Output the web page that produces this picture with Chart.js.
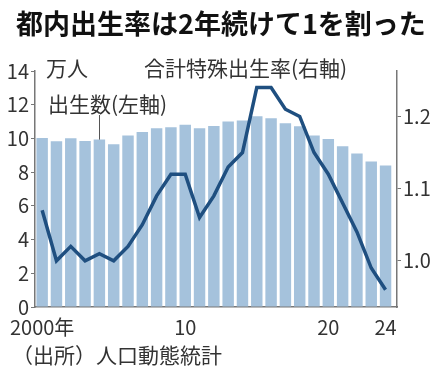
<!DOCTYPE html>
<html lang="ja">
  <head>
    <meta charset="UTF-8" />
    <title>都内出生率は2年続けて1を割った</title>
    <style>
      html, body { margin: 0; padding: 0; background: #fff; }
      #wrap { width: 434px; height: 374px; position: relative; }
    </style>
  </head>
  <body>
    <div id="wrap"><canvas id="myChart"></canvas></div>

    <script src="https://cdn.jsdelivr.net/npm/chart.js"></script>
    <script>
      const years = [2000, 2001, 2002, 2003, 2004, 2005, 2006, 2007, 2008, 2009, 2010, 2011, 2012,
        2013, 2014, 2015, 2016, 2017, 2018, 2019, 2020, 2021, 2022, 2023, 2024];
      // 出生数 (万人)
      const births = [10.02, 9.84, 10.01, 9.85, 9.93, 9.65, 10.17, 10.38, 10.6, 10.66, 10.81, 10.6, 10.74,
        11.0, 11.06, 11.32, 11.2, 10.9, 10.72, 10.18, 9.97, 9.54, 9.11, 8.63, 8.4];
      // 合計特殊出生率
      const tfr = [1.07, 1.0, 1.02, 1.0, 1.01, 1.0, 1.02, 1.05, 1.09, 1.12, 1.12, 1.06, 1.09,
        1.13, 1.15, 1.24, 1.24, 1.21, 1.2, 1.15, 1.12, 1.08, 1.04, 0.99, 0.96];
      const xTicks = [2000, 2010, 2020, 2024];
      const rightTicks = [1.0, 1.1, 1.2];

      const FONT = "'Noto Sans CJK JP', 'Noto Sans', sans-serif";

      const textPlugin = {
        id: "texts",
        afterDraw(chart) {
          const c = chart.ctx;
          const x = chart.scales.x;
          const y = chart.scales.y;
          c.save();
          c.fillStyle = "#111";
          c.textBaseline = "middle";
          c.textAlign = "left";
          c.font = "bold 27px " + FONT;
          c.fillText("都内出生率は2年続けて1を割った", 16, 24);
          c.fillStyle = "#333";
          c.font = "21px " + FONT;
          c.fillText("万人", 46, 68);
          c.fillText("合計特殊出生率(右軸)", 144, 68);
          c.fillText("出生数(左軸)", 48, 104);
          c.fillText("（出所）人口動態統計", 12, 355);
          // leader line to the 2004 bar
          const lx = Math.round(x.getPixelForValue(2004)) + 0.5;
          c.strokeStyle = "#555";
          c.lineWidth = 1;
          c.beginPath();
          c.moveTo(lx, 115);
          c.lineTo(lx, y.getPixelForValue(births[4]));
          c.stroke();
          c.restore();
        },
      };

      new Chart(document.getElementById("myChart"), {
        type: "bar",
        data: {
          datasets: [
            {
              type: "line",
              label: "合計特殊出生率",
              data: years.map((yr, i) => ({ x: yr, y: tfr[i] })),
              yAxisID: "y1",
              borderColor: "#1f4f80",
              borderWidth: 3.5,
              pointRadius: 0,
              tension: 0,
              order: 0,
            },
            {
              label: "出生数",
              data: years.map((yr, i) => ({ x: yr, y: births[i] })),
              yAxisID: "y",
              backgroundColor: "#a5c2dc",
              barPercentage: 0.8,
              categoryPercentage: 1,
              order: 1,
            },
          ],
        },
        options: {
          responsive: true,
          maintainAspectRatio: false,
          animation: false,
          layout: { padding: { top: 71, left: 0, right: 0, bottom: 0 } },
          plugins: { legend: { display: false }, tooltip: { enabled: false } },
          scales: {
            x: {
              type: "linear",
              offset: false,
              bounds: "ticks",
              min: 1999.5,
              max: 2024.8,
              afterDataLimits: (s) => { s.min = 1999.5; s.max = 2024.8; },
              afterBuildTicks: (s) => { s.ticks = xTicks.map((v) => ({ value: v })); },
              afterFit: (s) => { s.height = 67; },
              grid: { display: false, drawTicks: false, offset: false },
              border: { color: "#777", width: 1.5 },
              ticks: {
                padding: 8,
                color: "#333",
                font: { family: FONT, size: 20 },
                callback: (v) => (v === 2000 ? "2000年" : String(v % 100)),
              },
            },
            y: {
              position: "left",
              min: 0,
              max: 14,
              afterFit: (s) => { s.width = 35; },
              grid: { drawOnChartArea: false, tickLength: 4, color: "#777" },
              border: { color: "#777", width: 1.5 },
              ticks: { stepSize: 2, padding: 2, color: "#333", font: { family: FONT, size: 20 } },
            },
            y1: {
              position: "right",
              min: 0.936,
              max: 1.263,
              afterBuildTicks: (s) => { s.ticks = rightTicks.map((v) => ({ value: v })); },
              afterFit: (s) => { s.width = 434 - 397; },
              grid: { drawOnChartArea: false, tickLength: 4, color: "#777" },
              border: { color: "#777", width: 1.5 },
              ticks: {
                padding: 2,
                color: "#333",
                font: { family: FONT, size: 20 },
                callback: (v) => v.toFixed(1),
              },
            },
          },
        },
        plugins: [textPlugin],
      });
    </script>
  </body>
</html>
